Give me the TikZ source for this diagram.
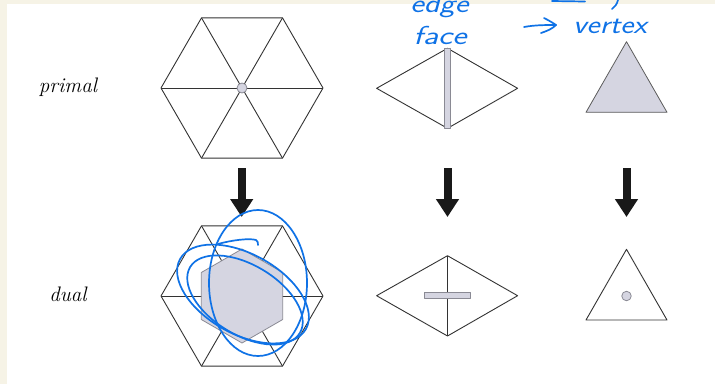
\documentclass[tikz,border=0pt]{standalone}
\usetikzlibrary{arrows.meta}
\definecolor{cream}{HTML}{F6F3E6}
\definecolor{lav}{HTML}{D5D5E1}
\definecolor{edgegray}{HTML}{8A8A94}
\definecolor{ink}{HTML}{333333}
\definecolor{pen}{HTML}{0F72E6}
\tikzset{
  wire/.style={draw=ink, line width=0.9pt, line join=round},
  facefill/.style={fill=lav, draw=edgegray, line width=0.8pt, line join=round},
  bigarrow/.style={draw=black!90, line width=8pt, -{Triangle[width=22pt,length=18pt]}},
  rowlabel/.style={font=\fontsize{21}{21}\selectfont\itshape, inner sep=0pt},
  scribble/.style={draw=pen, line width=1.7pt, line cap=round, line join=round},
  hand/.style={text=pen, font=\fontsize{26}{26}\selectfont\sffamily\slshape, inner sep=0pt, anchor=base west}
}
\begin{document}
\begin{tikzpicture}[x=1pt,y=-1pt]
% background and margins
\fill[cream] (0,0) rectangle (715,384);
\fill[white] (6.7,3.7) rectangle (715,384);
\useasboundingbox (0,0) rectangle (715,384);
\begin{scope}
\clip (0,0) rectangle (715,384);

% ---------- labels ----------
\node[rowlabel] (lprimal) at (68,87) {primal};
\node[rowlabel] (ldual) at (68,294) {dual};

% ---------- primal hexagon ----------
\coordinate (PC) at (242,88);
\coordinate (P0) at (323,88);
\coordinate (P1) at (282.5,17.85);
\coordinate (P2) at (201.5,17.85);
\coordinate (P3) at (161,88);
\coordinate (P4) at (201.5,158.15);
\coordinate (P5) at (282.5,158.15);
\draw[wire] (P0) -- (P1) -- (P2) -- (P3) -- (P4) -- (P5) -- cycle;
\foreach \i in {0,...,5} \draw[wire] (PC) -- (P\i);
\node[facefill, circle, minimum size=10pt, inner sep=0pt] (pvert) at (PC) {};

% ---------- primal diamond ----------
\coordinate (DL) at (376.6,88.3);
\coordinate (DT) at (447.5,48.3);
\coordinate (DR) at (517.6,88.3);
\coordinate (DB) at (447.5,128.3);
\draw[wire] (DL) -- (DT) -- (DR) -- (DB) -- cycle;
\draw[facefill] (444.5,48.3) rectangle (450.5,128.3);

% ---------- primal triangle ----------
\coordinate (TA) at (626.5,41.7);
\coordinate (TL) at (586,112.3);
\coordinate (TR) at (667,112.3);
\draw[facefill, draw=ink!80] (TA) -- (TL) -- (TR) -- cycle;

% ---------- arrows ----------
\coordinate (A1s) at (241.7,168);
\coordinate (A1e) at (241.7,217);
\coordinate (A2s) at (447.5,168);
\coordinate (A2e) at (447.5,217);
\coordinate (A3s) at (626.5,168);
\coordinate (A3e) at (626.5,217);
\draw[bigarrow] (A1s) -- (A1e);
\draw[bigarrow] (A2s) -- (A2e);
\draw[bigarrow] (A3s) -- (A3e);

% ---------- dual hexagon ----------
\coordinate (QC) at (242,296);
\coordinate (Q0) at (323,296);
\coordinate (Q1) at (282.5,225.85);
\coordinate (Q2) at (201.5,225.85);
\coordinate (Q3) at (161,296);
\coordinate (Q4) at (201.5,366.15);
\coordinate (Q5) at (282.5,366.15);
\draw[wire] (Q0) -- (Q1) -- (Q2) -- (Q3) -- (Q4) -- (Q5) -- cycle;
\foreach \i in {0,...,5} \draw[wire] (QC) -- (Q\i);
\coordinate (H0) at (242,249);
\coordinate (H1) at (282.7,272.5);
\coordinate (H2) at (282.7,319.5);
\coordinate (H3) at (242,343);
\coordinate (H4) at (201.3,319.5);
\coordinate (H5) at (201.3,272.5);
\draw[facefill] (H0) -- (H1) -- (H2) -- (H3) -- (H4) -- (H5) -- cycle;

% ---------- dual diamond ----------
\coordinate (EL) at (376.6,295.7);
\coordinate (ET) at (447.5,255.7);
\coordinate (ER) at (517.6,295.7);
\coordinate (EB) at (447.5,336);
\draw[wire] (EL) -- (ET) -- (ER) -- (EB) -- cycle;
\draw[wire] (ET) -- (EB);
\draw[facefill] (424,292.3) rectangle (470.6,298.3);

% ---------- dual triangle ----------
\coordinate (UA) at (626.5,249.3);
\coordinate (UL) at (586,320);
\coordinate (UR) at (667,320);
\draw[wire] (UA) -- (UL) -- (UR) -- cycle;
\node[facefill, circle, minimum size=9.5pt, inner sep=0pt] (dvert) at (626.5,296) {};

% ---------- blue handwritten annotations ----------
\node[hand, xscale=1.25] (wedge) at (410,12) {edge};
\node[hand, xscale=1.3] (wface) at (413,44) {face};
\node[hand, xscale=1.2] (wvertex) at (573,33) {vertex};
\draw[scribble] (524,27) .. controls (535,25) and (545,25) .. (556,25);
\draw[scribble] (544,18) .. controls (550,21) and (553,23) .. (556,25) .. controls (552,29) and (547,31) .. (541,33);
\draw[scribble] (552,1) -- (585,1.5);
\draw[scribble] (618,0) .. controls (617,4) and (615,7) .. (612,9);

% scribbles over the dual hexagon
\draw[scribble] (258,283) ellipse [x radius=49, y radius=73];
\draw[scribble, rotate around={-29:(243,294)}] (243,294) ellipse [x radius=72, y radius=40];
\draw[scribble, rotate around={-31:(245,300)}] (245,300) ellipse [x radius=64, y radius=35];
\draw[scribble] (218,244) .. controls (232,240) and (250,238) .. (256,240) .. controls (258,241) and (258,243) .. (258,245);
\end{scope}
\end{tikzpicture}
\end{document}
